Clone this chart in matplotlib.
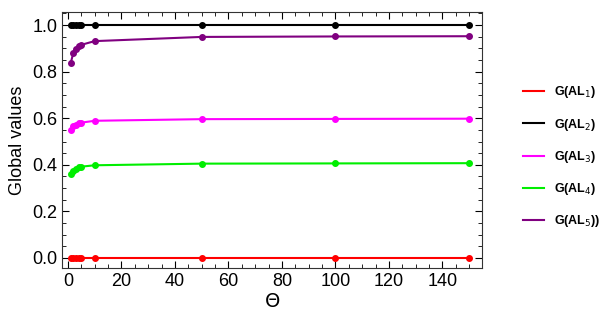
import matplotlib
matplotlib.use("Agg")
import matplotlib.pyplot as plt
from matplotlib.ticker import MultipleLocator
from matplotlib.lines import Line2D

plt.rcParams['font.family'] = ['Liberation Sans', 'DejaVu Sans']

theta = [1, 2, 3, 4, 5, 10, 50, 100, 150]
g1 = [0, 0, 0, 0, 0, 0, 0, 0, 0]
g2 = [1, 1, 1, 1, 1, 1, 1, 1, 1]
g3 = [0.548, 0.565, 0.573, 0.578, 0.581, 0.589, 0.596, 0.597, 0.598]
g4 = [0.360, 0.375, 0.384, 0.389, 0.392, 0.398, 0.405, 0.406, 0.407]
g5 = [0.835, 0.878, 0.897, 0.908, 0.915, 0.931, 0.949, 0.951, 0.952]

labels = [r'G(AL$_1$)', r'G(AL$_2$)', r'G(AL$_3$)', r'G(AL$_4$)', r'G(AL$_5$))']
colors = ['#ff0000', '#000000', '#ff00ff', '#00ee00', '#800080']

fig = plt.figure(figsize=(6.05, 3.28), dpi=100)
ax = fig.add_axes([62/605, 60/328, 420/605, 256/328])

handles = []
for y, lab, c in zip([g1, g2, g3, g4, g5], labels, colors):
    ax.plot(theta, y, color=c, lw=1.5, marker='o', ms=4)
    handles.append(Line2D([], [], color=c, lw=1.5, label=lab))

ax.set_xlim(-2.2, 154.8)
ax.set_ylim(-0.043, 1.056)
ax.xaxis.set_major_locator(MultipleLocator(20))
ax.xaxis.set_minor_locator(MultipleLocator(5))
ax.yaxis.set_minor_locator(MultipleLocator(0.05))
ax.set_yticks([0, 0.2, 0.4, 0.6, 0.8, 1.0])
ax.set_yticklabels(['0.0', '0.2', '0.4', '0.6', '0.8', '1.0'])
ax.tick_params(which='both', direction='in', top=True, right=True, labelsize=13)
ax.tick_params(which='major', length=5)
ax.tick_params(which='minor', length=3)
for s in ax.spines.values():
    s.set_color('#333333')
ax.set_xlabel(r'$\Theta$', fontsize=14, labelpad=2)
ax.set_ylabel('Global values', fontsize=13)

ax.legend(handles=handles, loc='center left', bbox_to_anchor=(1.07, 0.434), frameon=False,
          prop={'size': 9, 'weight': 'bold'}, labelspacing=1.3, handlelength=1.7)

fig.savefig('out.png', dpi=100)
